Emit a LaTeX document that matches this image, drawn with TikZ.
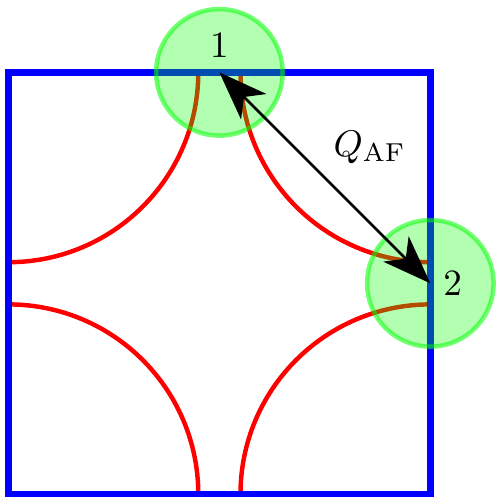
\documentclass[tikz,border=0pt]{standalone}
\usepackage{amsmath,amssymb}
\usetikzlibrary{arrows.meta}

\begin{document}
\begin{tikzpicture}[>={Stealth[length=4.6mm,width=3.4mm,inset=1.3mm]},line cap=round]
\useasboundingbox (-0.08,-0.026) rectangle (4.632,4.686);
\tikzset{
  wall/.style={blue,line width=2pt,line cap=butt},
  bond/.style={red,line width=1.2pt,line cap=butt},
  site/.style={circle,draw=green,draw opacity=0.55,fill=green,fill opacity=0.3,line width=1.2pt,minimum size=1.2cm,inner sep=0pt}
}
% quarter circles at the corners
\draw[bond] (0,2.2) arc (-90:0:1.8);
\draw[bond] (2.2,4) arc (180:270:1.8);
\draw[bond] (0,1.8) arc (90:0:1.8);
\draw[bond] (2.2,0) arc (180:90:1.8);
\draw[wall] (0,0) rectangle (4,4);
\node[site] (s1) at (2,4) {};
\node[site] (s2) at (4,2) {};
\node[above=0.5pt] (l1) at (s1.center) {$1$};
\node[right=0pt] (l2) at (s2.center) {$2$};
\draw[<->,line width=0.7pt] (s1.center) -- (s2.center) node[midway,anchor=south west,inner sep=2pt,yshift=1.5pt] (q) {$Q_{\mathrm{AF}}$};
\end{tikzpicture}
\end{document}
